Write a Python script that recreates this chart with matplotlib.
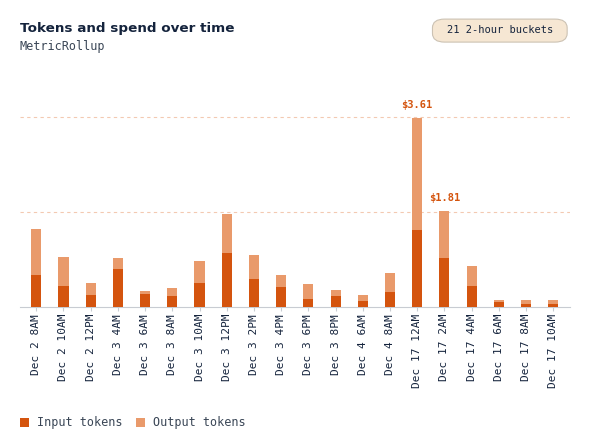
import matplotlib
matplotlib.use("Agg")
import matplotlib.pyplot as plt
from matplotlib.patches import FancyBboxPatch, Rectangle

labels = ["Dec 2 8AM","Dec 2 10AM","Dec 2 12PM","Dec 3 4AM","Dec 3 6AM","Dec 3 8AM",
          "Dec 3 10AM","Dec 3 12PM","Dec 3 2PM","Dec 3 4PM","Dec 3 6PM","Dec 3 8PM",
          "Dec 4 6AM","Dec 4 8AM","Dec 17 12AM","Dec 17 2AM","Dec 17 4AM","Dec 17 6AM",
          "Dec 17 8AM","Dec 17 10AM"]
input_k = [32, 21, 12, 38, 13, 11, 24, 54, 28, 20, 8, 11, 6, 15, 77, 49, 21, 5, 3, 3]
output_k = [46, 29, 12, 11, 3, 8, 22, 39, 24, 12, 15, 6, 6, 19, 112, 47, 20, 2, 4, 4]
spend_labels = {14: "$3.61", 15: "$1.81"}
grid_levels = [95, 190]

C_IN = "#d4540e"
C_OUT = "#e99a6b"
NAVY = "#14233c"
MONO = "DejaVu Sans Mono"

fig = plt.figure(figsize=(6.04, 4.34), dpi=100)
ax = fig.add_axes([0.033, 0.293, 0.91, 0.449])
x = list(range(len(labels)))
ax.bar(x, input_k, width=0.37, color=C_IN, zorder=3)
ax.bar(x, output_k, width=0.37, bottom=input_k, color=C_OUT, zorder=3)
for i, t in spend_labels.items():
    ax.text(i, input_k[i] + output_k[i] + 8, t, ha="center", va="bottom",
            color=C_IN, fontsize=7.5, fontweight="bold", family=MONO)
for g in grid_levels:
    ax.axhline(g, color="#f3c9b2", lw=0.8, ls=(0, (3, 3)), zorder=1)
ax.set_xlim(-0.6, len(labels) - 0.4)
ax.set_ylim(0, 195)
ax.set_yticks([])
for s in ["left", "right", "top"]:
    ax.spines[s].set_visible(False)
ax.spines["bottom"].set_color("#c8ccd2")
ax.set_xticks(x)
ax.set_xticklabels(labels, rotation=90, family=MONO, fontsize=8, color=NAVY)
ax.tick_params(axis="x", length=3, color="#c8ccd2", pad=2)

fig.text(0.033, 0.935, "Tokens and spend over time", fontsize=9.7, fontweight="bold",
         color=NAVY, va="center")
fig.text(0.033, 0.892, "MetricRollup", fontsize=8.5, family=MONO, color="#3a4656", va="center")
badge = FancyBboxPatch((0.72, 0.907), 0.215, 0.045, boxstyle="round,pad=0.004,rounding_size=0.02",
                       transform=fig.transFigure, fc="#f6e7d3", ec="#ccc2b3", lw=0.8)
fig.patches.append(badge)
fig.text(0.8275, 0.93, "21 2-hour buckets", fontsize=7.5, family=MONO, color=NAVY,
         ha="center", va="center")

for xx, lab, c in [(0.033, "Input tokens", C_IN), (0.225, "Output tokens", C_OUT)]:
    fig.patches.append(Rectangle((xx, 0.017), 0.015, 0.021, transform=fig.transFigure,
                                 fc=c, ec="none"))
    fig.text(xx + 0.028, 0.027, lab, fontsize=8.5, family=MONO, color="#3a4656", va="center")

fig.savefig("out.png", dpi=100, facecolor="white")
